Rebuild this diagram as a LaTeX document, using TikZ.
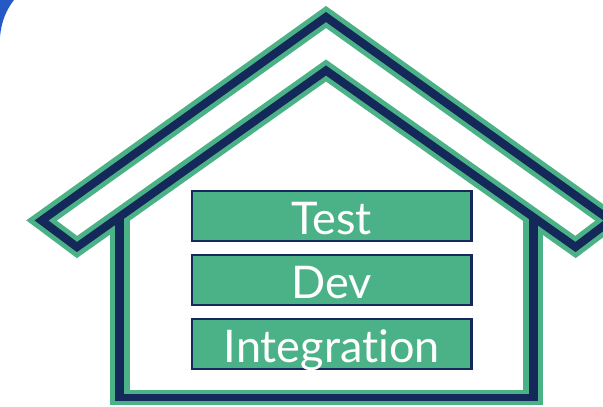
\documentclass[tikz,border=0pt]{standalone}
\usepackage{fontspec}
\setmainfont[Ligatures=NoCommon,Renderer=Basic]{Lato}
\definecolor{housegreen}{HTML}{4BB287}
\definecolor{housenavy}{HTML}{14295A}
\definecolor{cornerblue}{HTML}{2459C6}
\tikzset{
  greenline/.style={draw=housegreen,line width=18pt,miter limit=10,line join=miter},
  navyline/.style={draw=housenavy,line width=8.2pt,miter limit=10,line join=miter},
  wallgreen/.style={draw=housegreen,line width=20pt,line join=miter},
  wallnavy/.style={draw=housenavy,line width=9pt,line join=miter},
  floorgreen/.style={draw=housegreen,line width=15.5pt},
  floornavy/.style={draw=housenavy,line width=7pt},
  envbox/.style={draw=housenavy,line width=2.2pt,fill=housegreen,text=white,
    minimum width=279.5pt,minimum height=50pt,inner sep=0pt,outer sep=0pt,
    text height=43.5pt,text depth=6.5pt,font=\fontsize{45}{45}\selectfont},
}
\begin{document}
\begin{tikzpicture}[x=1pt,y=-1pt]
  \path[clip] (0,0) rectangle (603,407);
  \fill[white] (0,0) rectangle (603,407);
  \fill[cornerblue] (0,0) -- (14,0) .. controls (7,9) and (1.5,20) .. (0,37) -- cycle;
  % walls
  \path[wallgreen] (119.5,217) -- (119.5,397.5);
  \path[wallgreen] (533,217) -- (533,397.5);
  \path[floorgreen] (109.5,397.5) -- (543,397.5);
  % roof
  \path[greenline] (326,17) -- (41.5,220.5) -- (77,247) -- (326,70.5) -- (575.5,247) -- (610.5,220.5) -- cycle;
  % navy walls
  \path[wallnavy] (119.5,217) -- (119.5,401);
  \path[wallnavy] (533,217) -- (533,401);
  \path[floornavy] (115,397.5) -- (537.5,397.5);
  \path[navyline] (326,17) -- (41.5,220.5) -- (77,247) -- (326,70.5) -- (575.5,247) -- (610.5,220.5) -- cycle;
  % boxes
  \node[envbox] (test) at (331.7,216) {Test};
  \node[envbox] (dev) at (331.7,280) {Dev};
  \node[envbox] (integ) at (331.7,344.3) {Integration};
\end{tikzpicture}
\end{document}
